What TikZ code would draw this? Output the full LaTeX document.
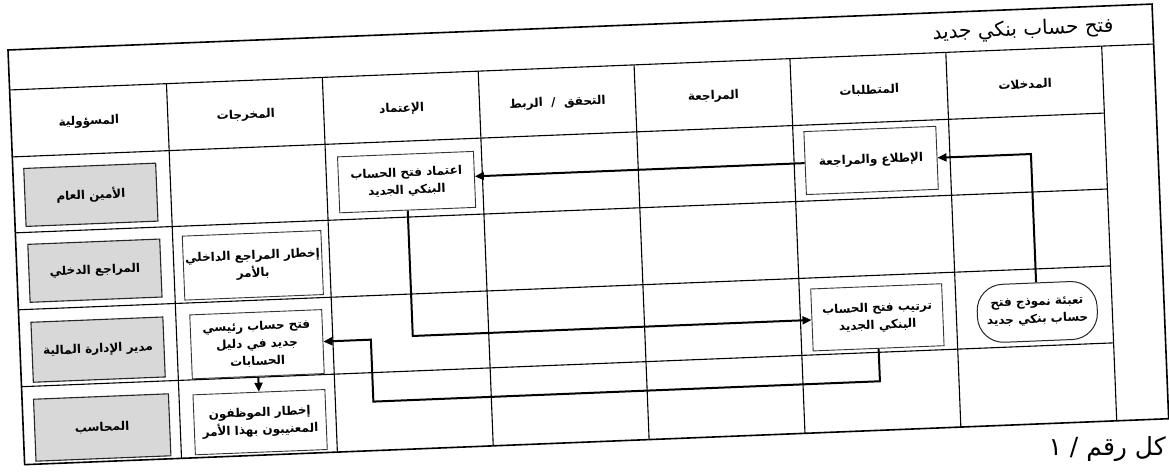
\documentclass[tikz,border=0pt]{standalone}
\usepackage{fontspec}
\usetikzlibrary{arrows.meta}
\newfontfamily\arabicfont[Script=Arabic, BoldFont={DejaVu Sans Bold}]{DejaVu Sans}
\TeXXeTstate=1
\newcommand{\ar}[1]{{\arabicfont\beginR #1\endR}}
\definecolor{boxgrey}{RGB}{216,216,216}
\begin{document}
\begin{tikzpicture}[x=1pt,y=-1pt,
  gridline/.style={line width=1.1pt},
  frameline/.style={line width=1.6pt},
  bodyfont/.style={font=\arabicfont\bfseries\fontsize{12}{17.5}\selectfont},
  greybox/.style={bodyfont, draw=black!85, line width=1.1pt, fill=boxgrey,
    minimum width=132pt, minimum height=58pt, inner sep=2pt, align=center},
  whitebox/.style={bodyfont, draw=black!80, line width=0.9pt, fill=white,
    minimum width=132pt, minimum height=60pt, inner sep=2pt, align=center},
  termbox/.style={bodyfont, draw=black!85, line width=1pt, fill=white,
    minimum width=120pt, minimum height=58pt, rounded corners=26pt, inner sep=2pt, align=center},
  headtext/.style={font=\arabicfont\bfseries\fontsize{12}{16}\selectfont, inner sep=1pt},
  titletext/.style={font=\arabicfont\fontsize{20}{24}\selectfont, inner sep=1pt},
  captext/.style={font=\arabicfont\fontsize{25}{30}\selectfont, inner sep=0pt},
  flow/.style={line width=2pt, -{Triangle[length=9pt,width=8pt]}},
]
\useasboundingbox (0,0) rectangle (1169,474);
\fill[white] (0,0) rectangle (1169,474);

\begin{scope}[shift={(8,50)}, rotate=2.3, transform shape]
  % frame and grid
  \draw[frameline] (0,0) rectangle (1145,415);
  \draw[gridline] (0,40) -- (1145,40);
  \foreach \v in {107,183,260,337} \draw[gridline] (0,\v) -- (1093,\v);
  \foreach \u in {157,313,469,625,781,937,1093} \draw[gridline] (\u,40) -- (\u,415);

  % title
  \node[titletext] (title) at (1015,21) {\ar{فتح حساب بنكي جديد}};

  % headers
  \node[headtext] (h0) at (78,75) {\ar{المسؤولية}};
  \node[headtext] (h1) at (235,75) {\ar{المخرجات}};
  \node[headtext] (h2) at (391,75) {\ar{الإعتماد}};
  \node[headtext] (h3) at (547,75) {\ar{التحقق~~/~~الربط}};
  \node[headtext] (h4) at (703,75) {\ar{المراجعة}};
  \node[headtext] (h5) at (859,75) {\ar{المتطلبات}};
  \node[headtext] (h6) at (1015,75) {\ar{المدخلات}};

  % responsibility boxes
  \node[greybox] (g1) at (77,148) {\ar{الأمين العام}};
  \node[greybox] (g2) at (78,224) {\ar{المراجع الدخلي}};
  \node[greybox, minimum height=60pt] (g3) at (78,303) {\ar{مدير الإدارة المالية}};
  \node[greybox, minimum height=62pt, minimum width=135pt] (g4) at (79,381) {\ar{المحاسب}};

  % outputs
  \node[whitebox, minimum width=138pt, minimum height=64pt] (notify1) at (236,225) {\ar{إخطار المراجع الداخلي}\\\ar{بالأمر}};
  \node[whitebox, minimum height=64pt] (mainacc) at (237,304) {\ar{فتح حساب رئيسي}\\\ar{جديد في دليل}\\\ar{الحسابات}};
  \node[whitebox] (notify2) at (237,382) {\ar{إخطار الموظفون}\\\ar{المعنيبون بهذا الأمر}};

  % approval
  \node[whitebox, minimum width=136pt, minimum height=56pt] (approve) at (393,148) {\ar{اعتماد فتح الحساب}\\\ar{البنكي الجديد}};

  % requirements
  \node[whitebox, minimum height=63pt] (review) at (858,145) {\ar{الإطلاع والمراجعة}};
  \node[whitebox, minimum width=131pt, minimum height=62pt] (arrange) at (858,302) {\ar{ترتيب فتح الحساب}\\\ar{البنكي الجديد}};

  % inputs
  \node[termbox] (fill) at (1018,303) {\ar{تعبئة نموذج فتح}\\\ar{حساب بنكي جديد}};

  % flow
  \coordinate (back) at (351,366);
  \draw[flow] (fill.north) |- (review.east);
  \draw[flow] (review.west) -- (approve.east |- review.west);
  \draw[flow] (approve.south) |- (arrange.west);
  \draw[flow] (arrange.south) |- (back) |- (mainacc.east);
  \draw[flow] (mainacc.south) -- (notify2.north);
\end{scope}

\node[captext, anchor=base east] (cap) at (1166,455) {\ar{كل رقم / ١}};
\end{tikzpicture}
\end{document}
